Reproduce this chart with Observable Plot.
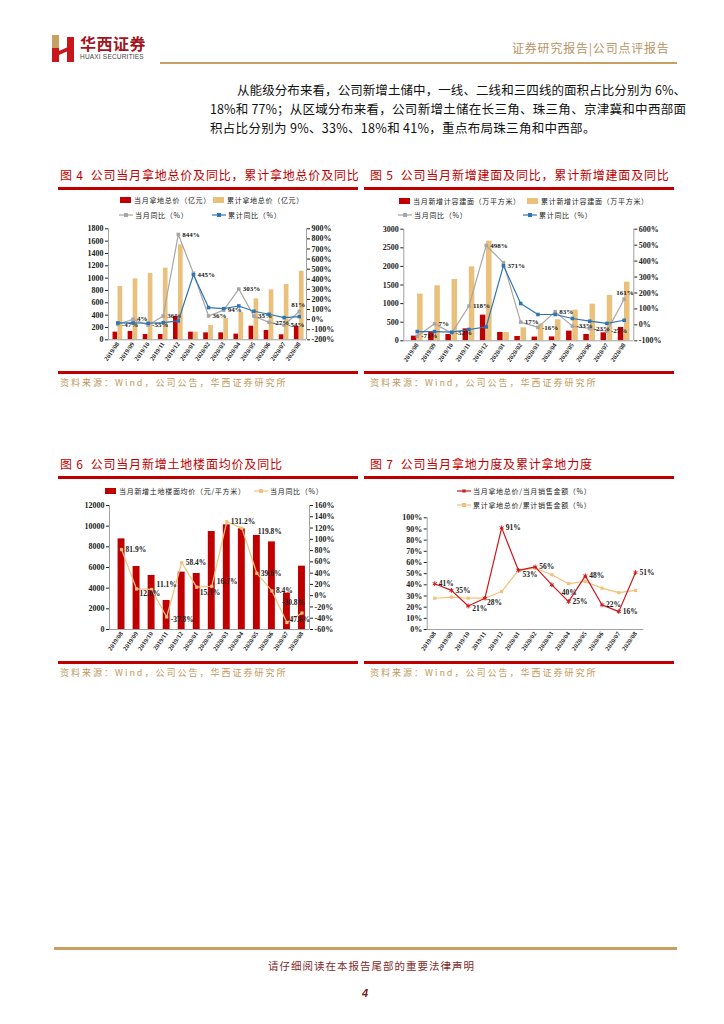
<!DOCTYPE html>
<html><head><meta charset="utf-8">
<script src="https://cdn.jsdelivr.net/npm/d3@7"></script>
<script src="https://cdn.jsdelivr.net/npm/@observablehq/plot@0.6"></script>
<style>
body{margin:0;background:#fff;}
#page{position:relative;width:724px;height:1024px;overflow:hidden;background:#fff;font-family:"Noto Sans CJK SC",sans-serif;}
.abs{position:absolute;white-space:nowrap;}
.title{color:#c00000;font-size:12px;letter-spacing:0.8px;line-height:14px;}
.rule{position:absolute;background:#c00000;height:2.5px;}
.src{color:#c09a5b;font-size:9px;letter-spacing:2px;line-height:11px;}
.para{font-size:12.5px;line-height:15px;color:#111;text-align:justify;text-align-last:justify;}
.leg{position:absolute;display:flex;align-items:center;font-size:7px;letter-spacing:0.7px;color:#222;height:10px;white-space:nowrap;}
.chart{position:absolute;}
</style></head><body><div id="page"></div>
<script>
// ---------- data ----------
const months = ["2019/08","2019/09","2019/10","2019/11","2019/12","2020/01","2020/02","2020/03","2020/04","2020/05","2020/06","2020/07","2020/08"];

// Fig 4
const f4Month = [124,135,86,86,380,124,113,113,92,221,151,81,216];
const f4Cum = [864,988,1075,1161,1539,124,232,346,443,664,810,896,1112];
const f4MonthYoY = [-47,4,-55,36,844,460,36,94,303,35,-27,-54,81];
const f4CumYoY = [-33,-33,-36,-30,-13,445,119,109,135,83,53,20,30];
const f4MonthLabels = ["-47%","4%","-55%","36%","844%","","36%","94%","303%","35%","-27%","-54%","81%"];
const f4CumLabels = ["","","","","","445%","","","","","","",""];

// Fig 5
const f5Month = [125,233,170,322,690,224,116,100,105,260,170,215,358];
const f5Cum = [1254,1478,1648,1988,2678,224,349,450,564,824,985,1218,1576];
const f5MonthYoY = [-71,7,-52,118,498,390,17,-16,83,-8,-23,-40,161];
const f5CumYoY = [-42,-42,-46,-29,-13,371,134,65,65,40,23,9,29];
const f5MonthLabels = ["-71%","7%","-52%","118%","498%","","17%","-16%","83%","-33%","-23%","-27%","161%"];
const f5CumLabels = ["","","","","","371%","","","","","","",""];

// Fig 6
const f6Price = [8770,6100,5230,2810,5550,5420,9480,10130,9740,9100,8480,3520,6130];
const f6YoY = [81.9,12.0,11.1,-37.8,58.4,15.1,16.7,131.2,119.8,39.6,8.4,-47.6,-30.8];
const f6Labels = ["81.9%","12.0%","11.1%","-37.8%","58.4%","15.1%","16.7%","131.2%","119.8%","39.6%","8.4%","-47.6%","-30.8%"];

// Fig 7
const f7Month = [41,35,21,28,91,53,56,40,25,48,22,16,51];
const f7Cum = [28,29,28,28,34,53,55,49,41,43,37,33,35];
const f7Labels = ["41%","35%","21%","28%","91%","53%","56%","40%","25%","48%","22%","16%","51%"];

// ---------- page helpers ----------
const page = document.getElementById("page");
function add(html, cls, style){const d=document.createElement("div");d.className=cls||"abs";d.setAttribute("style",style||"");d.innerHTML=html;page.appendChild(d);return d;}

// header
add(`<svg width="26" height="30"><rect x="0" y="0" width="7" height="13" fill="#c9a063"/><rect x="0" y="13" width="7" height="14" fill="#c8161d"/><polygon points="7,16 16,12 16,16 7,20" fill="#c8161d"/><rect x="15" y="2" width="7" height="25" fill="#c8161d"/></svg>`,"abs","left:52px;top:35px;");
add("华西证券","abs","left:80px;top:33px;font-size:16px;font-weight:bold;color:#a3141e;letter-spacing:0.5px;line-height:20px;");
add("HUAXI SECURITIES","abs","left:80px;top:53px;font-size:6.5px;color:#444;font-family:'Liberation Sans',sans-serif;letter-spacing:0.2px;line-height:8px;");
add("证券研究报告|公司点评报告","abs","left:512px;top:41px;font-size:12px;color:#b89463;letter-spacing:0.8px;line-height:14px;");
add("","abs","left:160px;top:62px;width:517px;height:2px;background:#c9a063;");

// paragraph
add("从能级分布来看，公司新增土储中，一线、二线和三四线的面积占比分别为 6%、","abs para","left:237px;top:82px;width:449px;");
add("18%和 77%；从区域分布来看，公司新增土储在长三角、珠三角、京津冀和中西部面","abs para","left:210px;top:101px;width:476px;");
add("积占比分别为 9%、33%、18%和 41%，重点布局珠三角和中西部。","abs","left:210px;top:120px;font-size:12.5px;line-height:15px;color:#111;letter-spacing:0.3px;");

// titles, rules, sources
add("图 4&nbsp;&nbsp;公司当月拿地总价及同比，累计拿地总价及同比","abs title","left:60px;top:168px;");
add("图 5&nbsp;&nbsp;公司当月新增建面及同比，累计新增建面及同比","abs title","left:370px;top:168px;");
add("","rule","left:58px;top:187px;width:300px;");
add("","rule","left:364px;top:187px;width:310px;");
add("","rule","left:58px;top:371px;width:300px;");
add("","rule","left:364px;top:371px;width:310px;");
add("资料来源：Wind，公司公告，华西证券研究所","abs src","left:60px;top:377px;");
add("资料来源：Wind，公司公告，华西证券研究所","abs src","left:370px;top:377px;");

add("图 6&nbsp;&nbsp;公司当月新增土地楼面均价及同比","abs title","left:60px;top:457px;");
add("图 7&nbsp;&nbsp;公司当月拿地力度及累计拿地力度","abs title","left:370px;top:457px;");
add("","rule","left:58px;top:476px;width:300px;");
add("","rule","left:364px;top:476px;width:310px;");
add("","rule","left:58px;top:661px;width:300px;");
add("","rule","left:364px;top:661px;width:310px;");
add("资料来源：Wind，公司公告，华西证券研究所","abs src","left:60px;top:667px;");
add("资料来源：Wind，公司公告，华西证券研究所","abs src","left:370px;top:667px;");

// footer
add("","abs","left:54px;top:947px;width:623px;height:3px;background:#c9a063;");
add("请仔细阅读在本报告尾部的重要法律声明","abs","left:268px;top:959px;font-size:10.5px;letter-spacing:1px;color:#7f2a2a;line-height:13px;");
add("4","abs","left:362px;top:987px;font-size:11px;font-weight:bold;font-style:italic;color:#7a1a1a;font-family:'Liberation Sans',sans-serif;line-height:13px;");

// legends
function legend(x,y,kind,color,text){
  let sw;
  if(kind==="rect") sw=`<svg width="14" height="10"><rect x="0" y="2" width="11" height="6" fill="${color}"/></svg>`;
  else if(kind==="star") sw=`<svg width="16" height="10"><line x1="0" y1="5" x2="14" y2="5" stroke="${color}" stroke-width="1.2"/><path d="M5,5h4M7,3v4M5.6,3.6l2.8,2.8M8.4,3.6l-2.8,2.8" stroke="${color}" stroke-width="1"/></svg>`;
  else sw=`<svg width="16" height="10"><line x1="0" y1="5" x2="14" y2="5" stroke="${color}" stroke-width="1.2"/><rect x="5" y="3" width="4" height="4" fill="${color}"/></svg>`;
  add(sw+"<span>"+text+"</span>","leg",`left:${x}px;top:${y-5}px;`);
}
const RED="#c00000", GOLD="#e9c07c", GRAY="#a6a6a6", BLUE="#2e75b6", LGOLD="#f0c27d";
legend(120,200,"rect",RED,"当月拿地总价（亿元）");
legend(213,200,"rect",GOLD,"累计拿地总价（亿元）");
legend(119,215,"line",GRAY,"当月同比（%）");
legend(212,215,"line",BLUE,"累计同比（%）");
legend(399,201,"rect",RED,"当月新增计容建面（万平方米）");
legend(527,201,"rect",GOLD,"累计新增计容建面（万平方米）");
legend(398,215,"line",GRAY,"当月同比（%）");
legend(523,215,"line",BLUE,"累计同比（%）");
legend(105,491,"rect",RED,"当月新增土地楼面均价（元/平方米）");
legend(254,491,"line",LGOLD,"当月同比（%）");
legend(457,491,"star","#d0161d","当月拿地总价/当月销售金额（%）");
legend(457,505,"line",LGOLD,"累计拿地总价/累计销售金额（%）");

// ---------- chart builder ----------
function makeChart(cfg){
  const idx = d3.range(months.length);
  const [y0,y1] = cfg.yDom;
  const rD = cfg.rDom;
  const conv = rD ? (r => y0 + (r - rD[0])/(rD[1]-rD[0])*(y1-y0)) : (r=>r);
  const back = rD ? (l => rD[0] + (l - y0)/(y1-y0)*(rD[1]-rD[0])) : (l=>l);
  const marks = [];
  for (const b of (cfg.bars||[])) {
    marks.push(Plot.rectY(idx, {x1: i=>i+b.x1, x2: i=>i+b.x2, y1: ()=>y0, y2: i=>b.values[i], fill: b.color}));
  }
  marks.push(Plot.ruleY([y0], {stroke:"#a0a0a0"}));
  marks.push(Plot.ruleX([cfg.xDom[0]], {stroke:"#a0a0a0"}));
  if (rD) marks.push(Plot.ruleX([cfg.xDom[1]], {stroke:"#a0a0a0"}));
  for (const s of cfg.lines) {
    const Y = i => s.right ? conv(s.values[i]) : s.values[i];
    marks.push(Plot.line(idx, {x: i=>i, y: Y, stroke: s.color, strokeWidth: s.width||1.2}));
    if (s.symbol==="asterisk") marks.push(Plot.dot(idx, {x: i=>i, y: Y, symbol: "asterisk", r: 2.2, stroke: s.color, strokeWidth: 1}));
    else marks.push(Plot.dot(idx, {x: i=>i, y: Y, symbol: "square", r: s.r||2, fill: s.color, stroke: "none"}));
    if (s.labels) {
      for (const i of idx.filter(i=>s.labels[i])) {
        const off = (s.lOff && s.lOff[i]) || [0,0];
        marks.push(Plot.text([i], {x: i=>i, y: Y, text: i=>s.labels[i], dx: 4 + off[0], dy: off[1], textAnchor: "start", fontSize: cfg.labelSize||7, fill: "#222"}));
      }
    }
  }
  marks.push(Plot.axisY({ticks: cfg.yTicks, tickSize: 3, tickPadding: 2, tickFormat: cfg.yFmt || (d=>String(d)), label: null, fontSize: 8}));
  if (rD) marks.push(Plot.axisY({anchor: "right", ticks: cfg.rTicks.map(conv), tickSize: 3, tickPadding: 2, tickFormat: l => Math.round(back(l)) + "%", label: null, fontSize: 8}));
  marks.push(Plot.axisX({ticks: idx, tickFormat: i => months[i], tickRotate: -55, tickSize: 0, tickPadding: 3, label: null, fontSize: 6.5}));
  const svg = Plot.plot({
    width: cfg.width, height: cfg.height,
    marginLeft: cfg.mL, marginRight: cfg.mR, marginTop: cfg.mT, marginBottom: cfg.mB,
    x: {domain: cfg.xDom, label: null},
    y: {domain: cfg.yDom, label: null},
    style: {fontFamily: "'Liberation Serif', serif", fontSize: "8px", fontWeight: "bold", color: "#222", background: "transparent", overflow: "visible"},
    marks
  });
  const wrap = document.createElement("div");
  wrap.className = "chart";
  wrap.style.left = cfg.left + "px"; wrap.style.top = cfg.top + "px";
  wrap.appendChild(svg);
  page.appendChild(wrap);
}

// Fig 4
makeChart({left:60, top:222, width:300, height:150, mL:48, mR:54, mT:6.3, mB:32.7,
  xDom:[-0.62,12.48], yDom:[0,1800], yTicks:d3.range(0,1801,200), rDom:[-200,900], rTicks:d3.range(-200,901,100),
  bars:[{values:f4Month, color:RED, x1:-0.32, x2:-0.01},{values:f4Cum, color:GOLD, x1:0.01, x2:0.32}],
  lines:[{values:f4MonthYoY, right:true, color:GRAY, labels:f4MonthLabels, lOff:{12:[-12,-7]}},{values:f4CumYoY, right:true, color:BLUE, labels:f4CumLabels}]
});
// Fig 5
makeChart({left:364, top:222, width:310, height:150, mL:39.3, mR:40.7, mT:6.7, mB:31.7,
  xDom:[-0.78,12.56], yDom:[0,3000], yTicks:d3.range(0,3001,500), rDom:[-100,600], rTicks:d3.range(-100,601,100),
  bars:[{values:f5Month, color:RED, x1:-0.34, x2:-0.02},{values:f5Cum, color:GOLD, x1:0.02, x2:0.34}],
  lines:[{values:f5MonthYoY, right:true, color:GRAY, labels:f5MonthLabels, lOff:{12:[-12,-6]}},{values:f5CumYoY, right:true, color:BLUE, labels:f5CumLabels}]
});
// Fig 6
makeChart({left:60, top:498, width:300, height:164, mL:49, mR:51, mT:7, mB:33,
  xDom:[-0.8,12.5], yDom:[0,12000], yTicks:d3.range(0,12001,2000), rDom:[-60,160], rTicks:d3.range(-60,161,20),
  bars:[{values:f6Price, color:RED, x1:-0.23, x2:0.23}],
  lines:[{values:f6YoY, right:true, color:LGOLD, r:1.8, labels:f6Labels, lOff:{1:[-1,5],2:[1,-5],3:[0,3],5:[-1,5],6:[1,-5],8:[12,3],11:[-4,-3],12:[-24,-10]}}], labelSize:7.5
});
// Fig 7
makeChart({left:364, top:498, width:310, height:164, mL:62.7, mR:30.6, mT:19.3, mB:33,
  xDom:[-0.45,12.5], yDom:[0,100], yTicks:d3.range(0,101,10), yFmt: d=>d+"%",
  lines:[{values:f7Cum, color:LGOLD, r:1.8},{values:f7Month, color:"#d0161d", symbol:"asterisk", labels:f7Labels, lOff:{2:[0,3],3:[-2,4],5:[0,4],7:[6,8]}}], labelSize:7.5
});
</script></body></html>
